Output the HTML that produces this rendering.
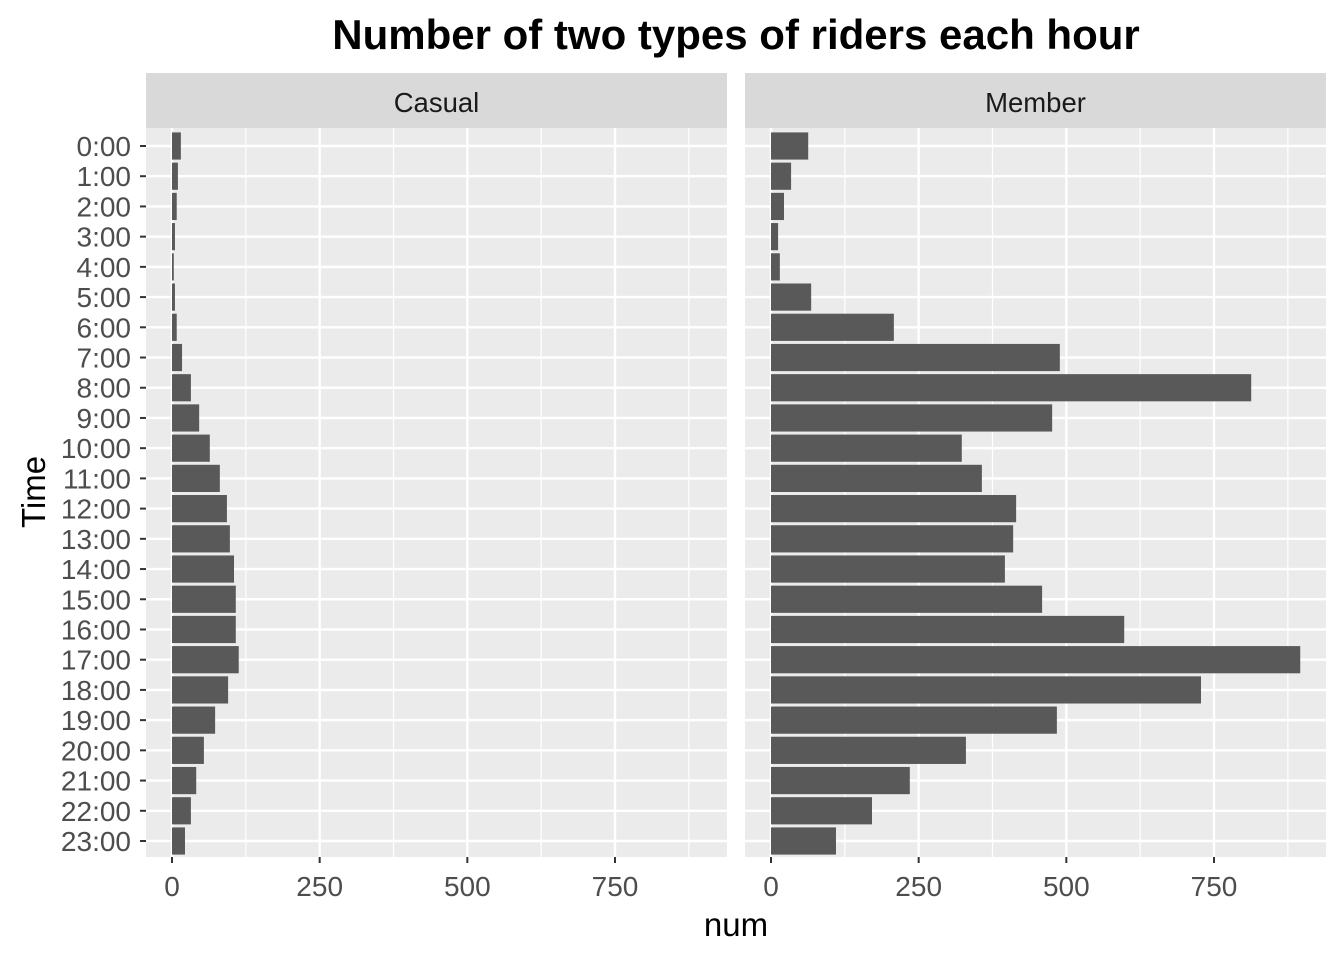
<!DOCTYPE html>
<html><head><meta charset="utf-8"><style>body{margin:0;background:#fff}svg{display:block}</style></head>
<body>
<svg id="chart" width="1344" height="960" xmlns="http://www.w3.org/2000/svg" font-family="Liberation Sans, sans-serif">
<text x="736" y="49" text-anchor="middle" font-size="42" font-weight="bold">Number of two types of riders each hour</text>
<text x="736" y="936" text-anchor="middle" font-size="33">num</text>
<text transform="translate(45,492) rotate(-90)" text-anchor="middle" font-size="33">Time</text>
<g id="panels"></g>
</svg>
<script>
const hours = ["0:00","1:00","2:00","3:00","4:00","5:00","6:00","7:00","8:00","9:00","10:00","11:00","12:00","13:00","14:00","15:00","16:00","17:00","18:00","19:00","20:00","21:00","22:00","23:00"];
const casualValues = [15,10,8,5,3,5,8,17,32,46,64,81,93,98,105,108,108,113,95,73,54,41,32,22];
const memberValues = [63,34,22,12,15,68,208,489,813,476,323,357,415,410,396,459,598,896,728,484,330,235,171,110];
const panelNames = ["Casual","Member"];
const xTicks = [0,250,500,750];
const xMinor = [125,375,625,875];

const NS="http://www.w3.org/2000/svg";
const g=document.getElementById('panels');
function mk(tag,attrs,parent){const e=document.createElementNS(NS,tag);for(const k in attrs)e.setAttribute(k,attrs[k]);(parent||g).appendChild(e);return e;}
const plotTop=128,plotBottom=857,stripTop=73;
const yPos=i=>146+i*(841-146)/23;
const band=(841-146)/23*0.9;
const panels=[{x0:146,x1:727,vals:casualValues},{x0:745,x1:1326,vals:memberValues}];
panels.forEach((p,pi)=>{
  const zero=p.x0+26, k=(615-172)/750;
  const xs=v=>zero+v*k;
  const bg=mk('rect',{x:p.x0,y:plotTop,width:p.x1-p.x0,height:plotBottom-plotTop,fill:'#ebebeb'});
  
  
  xMinor.forEach(v=>{if(xs(v)<p.x1)mk('line',{x1:xs(v),x2:xs(v),y1:plotTop,y2:plotBottom,stroke:'#fff','stroke-width':1.2});});
  xTicks.forEach(v=>mk('line',{x1:xs(v),x2:xs(v),y1:plotTop,y2:plotBottom,stroke:'#fff','stroke-width':2.4}));
  hours.forEach((h,i)=>mk('line',{x1:p.x0,x2:p.x1,y1:yPos(i),y2:yPos(i),stroke:'#fff','stroke-width':2.4}));
  p.vals.forEach((v,i)=>{
    const r=mk('rect',{x:zero,y:yPos(i)-band/2,width:Math.max(0,xs(v)-zero),height:band,fill:'#595959'});
    
    
  });
  const s=mk('rect',{x:p.x0,y:stripTop,width:p.x1-p.x0,height:plotTop-stripTop,fill:'#d9d9d9'});
  
  
  const st=mk('text',{x:(p.x0+p.x1)/2,y:112,'text-anchor':'middle','font-size':27.5,fill:'#1a1a1a'});
  st.textContent=panelNames[pi];
  
  
  xTicks.forEach(v=>{
    mk('line',{x1:xs(v),x2:xs(v),y1:plotBottom,y2:plotBottom+6,stroke:'#333','stroke-width':2});
    const t=mk('text',{x:xs(v),y:896,'text-anchor':'middle','font-size':28,fill:'#4d4d4d'});
    t.textContent=v;
    
    
  });
});
hours.forEach((h,i)=>{
  mk('line',{x1:140,x2:146,y1:yPos(i),y2:yPos(i),stroke:'#333','stroke-width':2});
  const t=mk('text',{x:131,y:yPos(i)+10,'text-anchor':'end','font-size':28,fill:'#4d4d4d'});
  t.textContent=h;
  
  
});
</script>
</body></html>
